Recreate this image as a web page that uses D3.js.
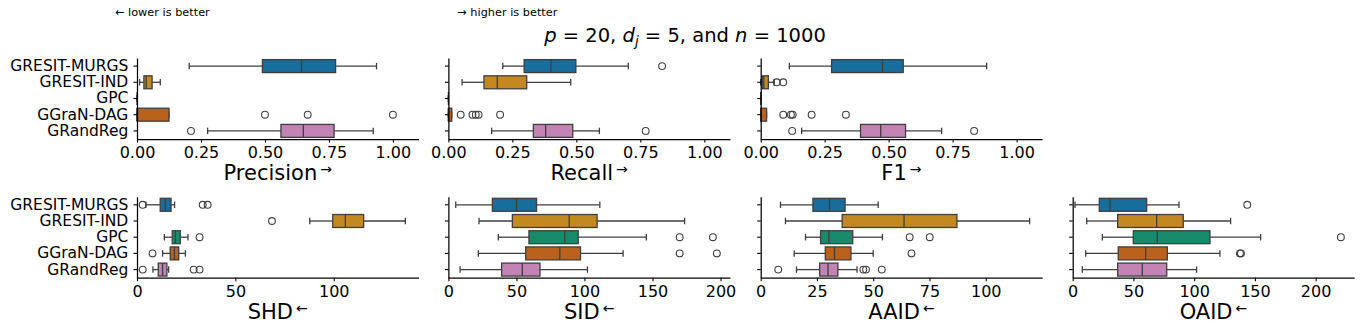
<!DOCTYPE html>
<html><head><meta charset="utf-8">
<script src="https://cdn.jsdelivr.net/npm/d3@7"></script>
<style>
html,body{margin:0;padding:0;background:#fff;}
svg{display:block;font-family:"DejaVu Sans",sans-serif;}
</style></head>
<body>
<svg id="chart" width="1362" height="332"></svg>
<script>
// ---------- data ----------
const methods = ["GRESIT-MURGS", "GRESIT-IND", "GPC", "GGraN-DAG", "GRandReg"];
const palette = ["#176d9c", "#c38820", "#168a6a", "#ba611b", "#c283b5"];

// each box: [whiskerLow, q1, median, q3, whiskerHigh]
const precisionBoxes = [[0.204,0.490,0.643,0.776,0.936],[0.010,0.027,0.036,0.059,0.091],[0,0,0,0,0],[0,0,0,0.125,0.125],[0.276,0.5625,0.650,0.770,0.923]];
const precisionOutliers = [[],[],[],[0.5,0.667,1.0],[0.211]];

const recallBoxes = [[0.2125,0.296,0.401,0.498,0.703],[0.0535,0.139,0.191,0.306,0.478],[0,0,0,0,0],[0,0,0,0.013,0.013],[0.169,0.332,0.380,0.486,0.590]];
const recallOutliers = [[0.835],[],[],[0.048,0.094,0.107,0.118,0.202],[0.771]];

const f1Boxes = [[0.112,0.277,0.476,0.557,0.883],[0,0.006,0.012,0.030,0.053],[0,0,0,0,0],[0,0,0,0.023,0.023],[0.160,0.390,0.469,0.566,0.707]];
const f1Outliers = [[],[0.0625,0.088],[],[0.088,0.118,0.125,0.199,0.333],[0.123,0.834]];

const shdBoxes = [[4.5,11.8,14.4,17.3,19.1],[87.8,99.5,105.9,115.2,136.4],[13.9,17.9,19.5,22.0,25.9],[13.0,16.9,19.0,21.2,24.6],[8.1,10.8,13.0,15.2,16.1]];
const shdOutliers = [[2.9,33.4,35.9],[68.6],[31.8],[7.9],[2.9,28.8,31.8]];

const sidBoxes = [[5.4,32.3,50.1,64.8,111.3],[22.5,47.0,88.8,109.3,173.6],[36.7,59.2,85.6,95.4,145.5],[22.0,56.8,81.9,97.1,128.4],[8.6,39.1,54.3,67.3,102.2]];
const sidOutliers = [[],[],[170,194.4],[170,197.3],[]];

const aaidBoxes = [[8.8,23.2,30.6,37.5,52.2],[11.0,36.2,63.7,87.2,119.5],[19.9,26.6,30.3,40.9,54.1],[14.9,28.7,32.8,40.1,50.0],[15.9,26.2,29.9,34.3,42.8]];
const aaidOutliers = [[],[],[66.2,75.1],[67.0],[7.8,45.6,46.8,53.8]];

const oaidBoxes = [[1.9,21.9,30.7,60.9,87.5],[11.5,37.0,69.1,91.0,130.0],[24.4,49.9,69.6,113.0,154.7],[10.7,37.5,60.1,77.9,121.2],[7.9,37.0,57.3,77.4,102.0]];
const oaidOutliers = [[143.7],[],[220.8],[137.7,138.5],[]];

const topTicks = [0, 0.25, 0.5, 0.75, 1.0];
const shdTicks = [0, 50, 100];
const sidTicks = [0, 50, 100, 150, 200];
const aaidTicks = [0, 25, 50, 75, 100];
const oaidTicks = [0, 50, 100, 150, 200];
const topXMax = 1.1;

const titleParts = ["p", " = 20, ", "d", "j", " = 5, and ", "n", " = 1000"];
const noteLower = "← lower is better";
const noteHigher = "→ higher is better";

// ---------- layout ----------
const panels = [
  {name:"Precision", arrow:"→", boxes:precisionBoxes, outliers:precisionOutliers, ticks:topTicks, fmt:d3.format(".2f"), row:0, col:0, fixedMax:topXMax},
  {name:"Recall", arrow:"→", boxes:recallBoxes, outliers:recallOutliers, ticks:topTicks, fmt:d3.format(".2f"), row:0, col:1, fixedMax:topXMax},
  {name:"F1", arrow:"→", boxes:f1Boxes, outliers:f1Outliers, ticks:topTicks, fmt:d3.format(".2f"), row:0, col:2, fixedMax:topXMax},
  {name:"SHD", arrow:"←", boxes:shdBoxes, outliers:shdOutliers, ticks:shdTicks, fmt:d3.format("d"), row:1, col:0},
  {name:"SID", arrow:"←", boxes:sidBoxes, outliers:sidOutliers, ticks:sidTicks, fmt:d3.format("d"), row:1, col:1},
  {name:"AAID", arrow:"←", boxes:aaidBoxes, outliers:aaidOutliers, ticks:aaidTicks, fmt:d3.format("d"), row:1, col:2},
  {name:"OAID", arrow:"←", boxes:oaidBoxes, outliers:oaidOutliers, ticks:oaidTicks, fmt:d3.format("d"), row:1, col:3}
];
const colLeft = [137, 448.4, 760.7, 1072.7];
const panelW = 281.5;
const rowTop = [58, 196.7];
const panelH = 81;

const gray = "#3f3f3f";
const svg = d3.select("#chart");
svg.append("rect").attr("width",1362).attr("height",332).attr("fill","#fff");

panels.forEach(p => {
  const x0 = colLeft[p.col], y0 = rowTop[p.row];
  let xmax = p.fixedMax;
  if (xmax === undefined) {
    const all = p.boxes.flat().concat(p.outliers.flat());
    const mx = d3.max(all), mn = d3.min(all);
    xmax = mx + 0.05 * (mx - mn);
  }
  const x = d3.scaleLinear().domain([0, xmax]).range([x0, x0 + panelW]);
  const y = d3.scaleBand().domain(methods).range([y0, y0 + panelH]);
  const bh = y.bandwidth() * 0.8;
  const capH = bh * 0.5;
  const g = svg.append("g");

  methods.forEach((m, i) => {
    const b = p.boxes[i];
    const cy = y(m) + y.bandwidth() / 2;
    const gg = g.append("g");
    gg.append("line").attr("x1", x(b[0])).attr("x2", x(b[1])).attr("y1", cy).attr("y2", cy)
      .attr("stroke", gray).attr("stroke-width", 1.3);
    gg.append("line").attr("x1", x(b[3])).attr("x2", x(b[4])).attr("y1", cy).attr("y2", cy)
      .attr("stroke", gray).attr("stroke-width", 1.3);
    [b[0], b[4]].forEach(v => {
      gg.append("line").attr("x1", x(v)).attr("x2", x(v)).attr("y1", cy - capH/2).attr("y2", cy + capH/2)
        .attr("stroke", gray).attr("stroke-width", 1.3);
    });
    gg.append("rect").attr("x", x(b[1])).attr("y", cy - bh/2)
      .attr("width", Math.max(0, x(b[3]) - x(b[1]))).attr("height", bh)
      .attr("fill", palette[i]).attr("stroke", gray).attr("stroke-width", 1.3);
    gg.append("line").attr("x1", x(b[2])).attr("x2", x(b[2])).attr("y1", cy - bh/2).attr("y2", cy + bh/2)
      .attr("stroke", gray).attr("stroke-width", 1.3);
    gg.selectAll("circle").data(p.outliers[i]).join("circle")
      .attr("cx", d => x(d)).attr("cy", cy).attr("r", 3.4)
      .attr("fill", "none").attr("stroke", gray).attr("stroke-width", 1.1);
  });

  const xa = svg.append("g").attr("transform", `translate(0,${y0 + panelH})`)
    .call(d3.axisBottom(x).tickValues(p.ticks).tickFormat(p.fmt).tickSize(3.5).tickSizeOuter(0).tickPadding(4.5));
  xa.select(".domain").attr("stroke", "#000").attr("stroke-width", 1.25);
  xa.selectAll(".tick line").attr("stroke", "#000").attr("stroke-width", 1.1);
  xa.selectAll(".tick text").attr("font-size", "16px").attr("font-family", "DejaVu Sans").attr("fill", "#000");

  const ya = svg.append("g").attr("transform", `translate(${x0},0)`)
    .call(d3.axisLeft(y).tickSize(3.5).tickSizeOuter(0).tickPadding(5.2));
  ya.select(".domain").attr("stroke", "#000").attr("stroke-width", 1.25);
  ya.selectAll(".tick line").attr("stroke", "#000").attr("stroke-width", 1.1);
  ya.selectAll(".tick text").attr("font-size", "15.5px").attr("font-family", "DejaVu Sans").attr("fill", "#000");
  if (p.col !== 0) ya.selectAll(".tick text").remove();

  const lab = svg.append("text").attr("x", x0 + panelW/2).attr("y", y0 + panelH + 40.8)
    .attr("text-anchor", "middle").attr("font-size", "21px").attr("fill", "#000");
  lab.append("tspan").text(p.name);
  lab.append("tspan").attr("font-size", "14px").attr("dx", 3).attr("dy", "-6").text(p.arrow);
});

const t = svg.append("text").attr("x", 685).attr("y", 41.5).attr("text-anchor", "middle")
  .attr("font-size", "19.5px").attr("fill", "#000");
t.append("tspan").attr("font-style", "italic").text(titleParts[0]);
t.append("tspan").text(titleParts[1]);
t.append("tspan").attr("font-style", "italic").text(titleParts[2]);
t.append("tspan").attr("font-style", "italic").attr("font-size", "13.5px").attr("dy", 4).text(titleParts[3]);
t.append("tspan").attr("dy", -4).text(titleParts[4]);
t.append("tspan").attr("font-style", "italic").text(titleParts[5]);
t.append("tspan").text(titleParts[6]);

svg.append("text").attr("x", 115).attr("y", 16).attr("font-size", "11.3px").attr("fill", "#000").text(noteLower);
svg.append("text").attr("x", 457.3).attr("y", 16).attr("font-size", "11.3px").attr("fill", "#000").text(noteHigher);
</script>
</body></html>
